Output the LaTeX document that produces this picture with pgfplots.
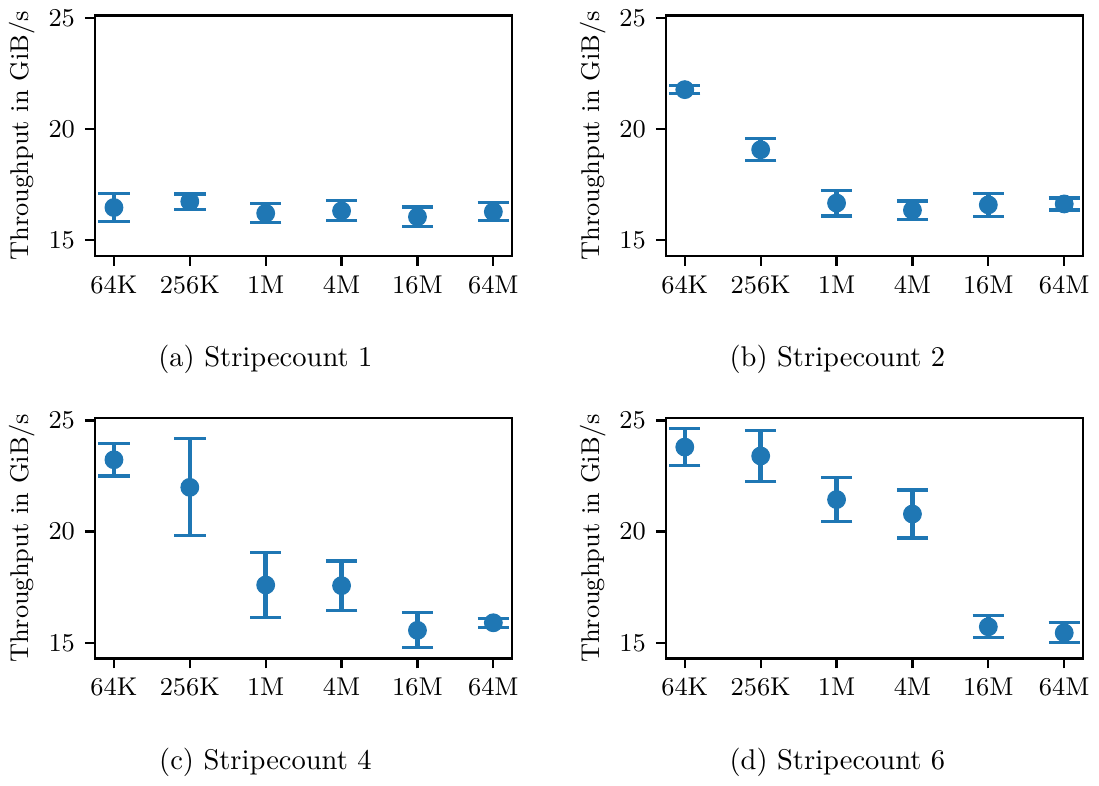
\documentclass[border=0pt]{standalone}
\usepackage{pgfplots}
\usepackage{pgfplotstable}
\pgfplotsset{compat=1.18}
\definecolor{mblue}{HTML}{1F77B4}

\pgfplotstableread{
x y e
0 16.47 0.64
1 16.74 0.34
2 16.21 0.43
3 16.32 0.45
4 16.05 0.44
5 16.28 0.40
}\tA
\pgfplotstableread{
x y e
0 21.77 0.17
1 19.07 0.50
2 16.67 0.58
3 16.35 0.41
4 16.59 0.52
5 16.63 0.27
}\tB
\pgfplotstableread{
x y e
0 23.23 0.73
1 21.99 2.18
2 17.60 1.47
3 17.57 1.11
4 15.56 0.79
5 15.90 0.21
}\tC
\pgfplotstableread{
x y e
0 23.80 0.84
1 23.40 1.14
2 21.44 1.00
3 20.79 1.08
4 15.72 0.50
5 15.45 0.45
}\tD

\pgfplotsset{
  panel/.style={
    scale only axis,
    width=146.3pt, height=84.2pt,
    anchor=north west,
    xmin=-0.25, xmax=5.25,
    ymin=14.3, ymax=25.1,
    xtick={0,1,2,3,4,5},
    xticklabels={64K,256K,1M,4M,16M,64M},
    ytick={15,20,25},
    tick align=outside,
    xtick pos=bottom, ytick pos=left,
    major tick length=3.5pt,
    every tick/.style={black, line width=0.8pt},
    axis line style={line width=0.8pt},
    ticklabel style={font=\fontsize{9}{11}\selectfont},
    ylabel={Throughput in GiB/s},
    every axis y label/.style={at={(axis description cs:-0.174,0.5)}, rotate=90, anchor=center, font=\fontsize{9}{11}\selectfont},
  },
  ebar/.style={
    only marks, color=mblue,
    mark=*, mark size=3.1pt, mark options={fill=mblue, draw=mblue},
    error bars/.cd, y dir=both, y explicit,
    error bar style={line width=1.6pt, color=mblue},
    error mark options={rotate=90, mark size=5.5pt, line width=1.1pt, color=mblue},
  },
}

\begin{document}
\begin{tikzpicture}
\path (0,0) rectangle (382.9pt,-272.5pt);

\begin{axis}[panel, at={(32.75pt,-4.08pt)}]
\addplot+[ebar] table[x=x, y=y, y error=e] {\tA};
\end{axis}
\node[font=\fontsize{10}{12}\selectfont, anchor=base] at (92.5pt,-127.2pt) {(a) Stripecount 1};

\begin{axis}[panel, at={(232.85pt,-4.08pt)}]
\addplot+[ebar] table[x=x, y=y, y error=e] {\tB};
\end{axis}
\node[font=\fontsize{10}{12}\selectfont, anchor=base] at (293.0pt,-127.2pt) {(b) Stripecount 2};

\begin{axis}[panel, at={(32.75pt,-145.2pt)}]
\addplot+[ebar] table[x=x, y=y, y error=e] {\tC};
\end{axis}
\node[font=\fontsize{10}{12}\selectfont, anchor=base] at (92.5pt,-268.3pt) {(c) Stripecount 4};

\begin{axis}[panel, at={(232.85pt,-145.2pt)}]
\addplot+[ebar] table[x=x, y=y, y error=e] {\tD};
\end{axis}
\node[font=\fontsize{10}{12}\selectfont, anchor=base] at (293.0pt,-268.3pt) {(d) Stripecount 6};
\end{tikzpicture}
\end{document}
